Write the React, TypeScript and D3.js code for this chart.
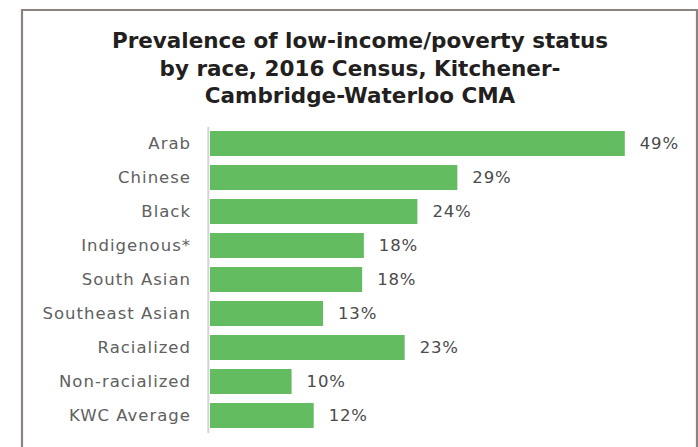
import { useEffect, useRef } from "react";
import * as d3 from "d3";

const categories = [
  "Arab",
  "Chinese",
  "Black",
  "Indigenous*",
  "South Asian",
  "Southeast Asian",
  "Racialized",
  "Non-racialized",
  "KWC Average",
];
const values = [48.8, 29.1, 24.4, 18.1, 17.9, 13.3, 22.9, 9.6, 12.2];
const valueLabels = ["49%", "29%", "24%", "18%", "18%", "13%", "23%", "10%", "12%"];
const titleLines = [
  "Prevalence of low-income/poverty status",
  "by race, 2016 Census, Kitchener-",
  "Cambridge-Waterloo CMA",
];

export default function App() {
  const ref = useRef<SVGSVGElement | null>(null);
  const width = 698;
  const height = 447;

  useEffect(() => {
    if (!ref.current) return;
    const svg = d3.select(ref.current);
    svg.selectAll("*").remove();

    svg.append("rect").attr("width", width).attr("height", height).attr("fill", "white");

    // frame
    svg
      .append("path")
      .attr("d", `M22,${height + 5} L22,10 L697,10 L697,${height + 5}`)
      .attr("fill", "none")
      .attr("stroke", "#8c8280")
      .attr("stroke-width", 2.2);

    // title
    svg
      .append("g")
      .attr("font-family", "'DejaVu Sans', sans-serif")
      .attr("font-weight", "bold")
      .attr("font-size", 21.5)
      .attr("fill", "#231f20")
      .attr("text-anchor", "middle")
      .selectAll("text")
      .data(titleLines)
      .join("text")
      .attr("x", 360)
      .attr("y", (_, i) => 48 + i * 27.5)
      .text((d) => d);

    const x = d3.scaleLinear().domain([0, 49]).range([210, 626.5]);
    const y = d3
      .scaleBand<string>()
      .domain(categories)
      .range([126.5, 432.5])
      .paddingInner(0.265)
      .paddingOuter(0.1325);

    // axis line
    svg
      .append("line")
      .attr("x1", 208.3)
      .attr("x2", 208.3)
      .attr("y1", 127)
      .attr("y2", 433)
      .attr("stroke", "#d4d4d4")
      .attr("stroke-width", 2);

    svg
      .append("g")
      .selectAll("rect")
      .data(values)
      .join("rect")
      .attr("x", x(0))
      .attr("y", (_, i) => y(categories[i])!)
      .attr("width", (d) => x(d) - x(0))
      .attr("height", y.bandwidth())
      .attr("fill", "#64bc61");

    svg
      .append("g")
      .attr("font-family", "'DejaVu Sans', sans-serif")
      .attr("font-size", 16.5)
      .attr("letter-spacing", 1)
      .attr("fill", "#606060")
      .attr("text-anchor", "end")
      .selectAll("text")
      .data(categories)
      .join("text")
      .attr("x", 191)
      .attr("y", (d) => y(d)! + y.bandwidth() / 2)
      .attr("dy", "0.36em")
      .text((d) => d);

    svg
      .append("g")
      .attr("font-family", "'DejaVu Sans', sans-serif")
      .attr("font-size", 16.5)
      .attr("letter-spacing", 0.8)
      .attr("fill", "#4a4a4a")
      .selectAll("text")
      .data(values)
      .join("text")
      .attr("x", (d) => x(d) + 15)
      .attr("y", (_, i) => y(categories[i])! + y.bandwidth() / 2)
      .attr("dy", "0.36em")
      .text((_, i) => valueLabels[i]);
  }, []);

  return (
    <svg
      ref={ref}
      width={width}
      height={height}
      style={{ position: "absolute", left: 0, top: 0, display: "block" }}
    />
  );
}
